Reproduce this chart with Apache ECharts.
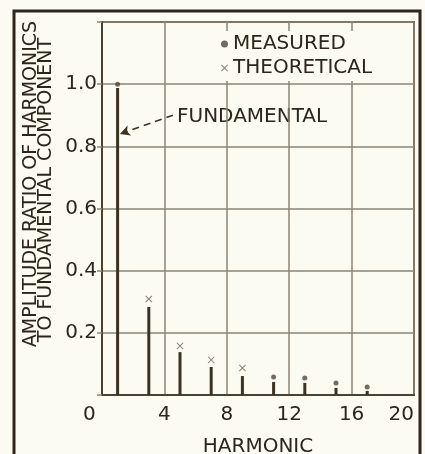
<!DOCTYPE html>
<html>
<head>
<meta charset="utf-8">
<script src="https://cdn.jsdelivr.net/npm/echarts@6/dist/echarts.min.js"></script>
<style>
  html, body { margin: 0; padding: 0; background: #fcfbf2; }
  #chart { width: 425px; height: 454px; }
</style>
</head>
<body>
<div id="chart"></div>
<script>
// harmonic number of each stem and its height
var harmonics = [1, 3, 5, 7, 9, 11, 13, 15, 17];
var stems = [0.988, 0.283, 0.138, 0.09, 0.061, 0.042, 0.039, 0.023, 0.013];

// measured points (dots) and theoretical points (crosses)
var measuredH = [1, 11, 13, 15, 17];
var measuredV = [1.0, 0.058, 0.055, 0.039, 0.026];
var theoryH = [3, 5, 7, 9];
var theoryV = [0.309, 0.158, 0.113, 0.087];

var xTicks = [0, 4, 8, 12, 16, 20];
var yTicks = [0.2, 0.4, 0.6, 0.8, 1.0];

var ink = '#2b2619';
var gridCol = '#8d8574';
var font = 'DejaVu Sans';

function pairs(xs, ys) {
    var out = [];
    for (var i = 0; i < xs.length; i++) out.push([xs[i], ys[i]]);
    return out;
}

var crossPath = 'path://M0,1L1,0L5,4L9,0L10,1L6,5L10,9L9,10L5,6L1,10L0,9L4,5Z';

var dom = document.getElementById('chart');
var myChart = echarts.init(dom, null, { renderer: 'canvas' });

option = {
    backgroundColor: '#fcfbf2',
    animation: false,
    textStyle: { fontFamily: font, color: ink },
    grid: {
        left: 102, top: 22, width: 312, height: 373,
        outerBoundsMode: 'none', containLabel: false,
        show: true, borderColor: '#5e5645', borderWidth: 2
    },
    legend: {
        orient: 'vertical',
        left: 215, top: 31,
        itemWidth: 7, itemHeight: 7, itemGap: 4,
        padding: [3, 6, 3, 6],
        backgroundColor: '#fcfbf2',
        textStyle: { fontSize: 20, fontFamily: font, color: ink },
        data: [
            { name: 'MEASURED', icon: 'circle' },
            { name: 'THEORETICAL', icon: crossPath }
        ]
    },
    xAxis: {
        type: 'value', min: 0, max: 20, interval: 4,
        axisLine: { lineStyle: { color: '#4a4333', width: 2 } },
        axisTick: { show: false },
        axisLabel: {
            fontSize: 20, fontFamily: font, color: ink, margin: 10,
            alignMinLabel: 'right', alignMaxLabel: 'right',
            formatter: function (v) {
                if (v === 0) return '0 ';
                return xTicks.indexOf(v) >= 0 ? String(v) : '';
            }
        },
        splitLine: { show: true, lineStyle: { color: gridCol, width: 1.5 } },
        name: 'HARMONIC', nameLocation: 'middle', nameGap: 42,
        nameTextStyle: { fontSize: 20, fontFamily: font, color: ink }
    },
    yAxis: {
        type: 'value', min: 0, max: 1.2, interval: 0.2,
        axisLine: { show: true, lineStyle: { color: '#4a4333', width: 2 } },
        axisTick: { show: true, length: 5, lineStyle: { color: gridCol, width: 1.5 } },
        axisLabel: {
            fontSize: 20, fontFamily: font, color: ink, margin: 5,
            formatter: function (v) {
                for (var i = 0; i < yTicks.length; i++) {
                    if (Math.abs(yTicks[i] - v) < 1e-6) return yTicks[i].toFixed(1);
                }
                return '';
            }
        },
        splitLine: { show: true, lineStyle: { color: gridCol, width: 1.5 } }
    },
    graphic: [
        {
            type: 'rect', silent: true, z: -1,
            shape: { x: 14, y: 11, width: 406, height: 470 },
            style: { fill: null, stroke: ink, lineWidth: 3 }
        },
        {
            type: 'text', x: 31, y: 184, rotation: Math.PI / 2,
            style: {
                text: 'AMPLITUDE RATIO OF HARMONICS', fontSize: 19, fontFamily: font,
                fill: ink, textAlign: 'center', textVerticalAlign: 'middle'
            }
        },
        {
            type: 'text', x: 46, y: 190, rotation: Math.PI / 2,
            style: {
                text: 'TO FUNDAMENTAL COMPONENT', fontSize: 19, fontFamily: font,
                fill: ink, textAlign: 'center', textVerticalAlign: 'middle'
            }
        },
        {
            type: 'text', left: 177, top: 107,
            style: { text: 'FUNDAMENTAL', fontSize: 20, fontFamily: font, fill: ink }
        }
    ],
    series: [
        {
            name: 'stems',
            type: 'bar',
            barWidth: 3,
            itemStyle: { color: '#3a3323' },
            data: pairs(harmonics, stems),
            markLine: {
                silent: true,
                symbol: ['none', 'arrow'],
                symbolSize: [8, 10],
                label: { show: false },
                lineStyle: { color: '#3a3323', width: 1.5, type: [7, 5] },
                data: [[{ coord: [4.55, 0.90] }, { coord: [1.15, 0.84] }]]
            }
        },
        {
            name: 'MEASURED',
            type: 'scatter',
            symbol: 'circle',
            symbolSize: 5,
            itemStyle: { color: '#4f4838' },
            data: pairs(measuredH, measuredV),
            z: 3
        },
        {
            name: 'THEORETICAL',
            type: 'scatter',
            symbol: crossPath,
            symbolSize: 7,
            itemStyle: { color: '#6a6251' },
            data: pairs(theoryH, theoryV),
            z: 3
        }
    ]
};
if (option && typeof option === "object") {
    myChart.setOption(option, true);
}
</script>
</body>
</html>
